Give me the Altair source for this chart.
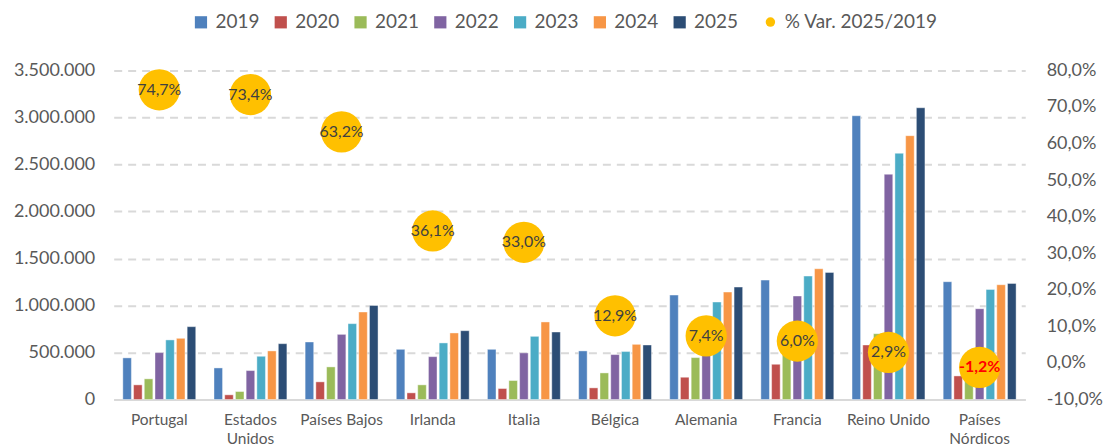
import altair as alt
import pandas as pd

paises = ["Portugal", "Estados Unidos", "Países Bajos", "Irlanda", "Italia",
          "Bélgica", "Alemania", "Francia", "Reino Unido", "Países Nórdicos"]
anios = ["2019", "2020", "2021", "2022", "2023", "2024", "2025"]

v2019 = [443000, 336000, 612000, 534000, 534000, 517000, 1111000, 1270000, 3018000, 1253000]
v2020 = [156000, 50000, 188000, 71000, 117000, 124000, 237000, 375000, 580000, 251000]
v2021 = [220000, 85000, 347000, 156000, 202000, 283000, 446000, 480000, 700000, 230000]
v2022 = [499000, 308000, 693000, 456000, 496000, 478000, 600000, 1101000, 2396000, 966000]
v2023 = [634000, 460000, 807000, 602000, 672000, 510000, 1037000, 1313000, 2619000, 1171000]
v2024 = [651000, 517000, 931000, 708000, 825000, 587000, 1143000, 1391000, 2806000, 1221000]
v2025 = [775000, 594000, 1001000, 732000, 718000, 580000, 1196000, 1352000, 3103000, 1235000]

pct = [74.7, 73.4, 63.2, 36.1, 33.0, 12.9, 7.4, 6.0, 2.9, -1.2]
pct_labels = ["74,7%", "73,4%", "63,2%", "36,1%", "33,0%", "12,9%", "7,4%", "6,0%", "2,9%", "-1,2%"]

var_name = "% Var. 2025/2019"
colores = ["#4F81BD", "#C0504D", "#9BBB59", "#8064A2", "#4BACC6", "#F79646", "#2C4D75"]
color_var = "#FFC000"

series = [v2019, v2020, v2021, v2022, v2023, v2024, v2025]
rows = []
for a, vals in zip(anios, series):
    for p, v in zip(paises, vals):
        rows.append({"pais": p, "serie": a, "valor": v})
bars_df = pd.DataFrame(rows)
pct_df = pd.DataFrame({"pais": paises, "pct": pct, "lbl": pct_labels, "serie": var_name})

FONT = "Lato"
GREY = "#595959"

legend_years = alt.Legend(
    title=None, orient="none", direction="horizontal", legendX=78, legendY=-58,
    labelFontSize=19, labelFont=FONT, labelColor=GREY, symbolSize=150, symbolType="square",
    symbolStrokeWidth=0, columnPadding=11, labelOffset=5,
)
legend_var = alt.Legend(
    title=None, orient="none", direction="horizontal", legendX=649, legendY=-58,
    labelFontSize=19, labelFont=FONT, labelColor=GREY, symbolSize=90, symbolType="circle",
    symbolStrokeWidth=0, labelOffset=5,
)

x_enc = alt.X("pais:N", sort=paises, title=None,
              scale=alt.Scale(paddingInner=0.2, paddingOuter=0.1),
              axis=alt.Axis(labelFont=FONT, labelFontSize=15.5, labelColor=GREY, ticks=False,
                            labelAngle=0, labelPadding=13, labelLineHeight=19,
                            domainColor="#D9D9D9", domainWidth=2,
                            labelExpr="datum.label == 'Estados Unidos' || datum.label == 'Países Nórdicos' ? split(datum.label, ' ') : datum.label"))

bars = alt.Chart(bars_df).mark_bar(stroke="white", strokeWidth=0.7, strokeOpacity=0.6).encode(
    x=x_enc,
    xOffset=alt.XOffset("serie:N", sort=anios, scale=alt.Scale(paddingInner=0.2)),
    y=alt.Y("valor:Q", title=None,
            scale=alt.Scale(domain=[0, 3500000], nice=False),
            axis=alt.Axis(values=[0, 500000, 1000000, 1500000, 2000000, 2500000, 3000000, 3500000],
                          labelExpr="replace(format(datum.value, ',d'), regexp(',', 'g'), '.')",
                          labelFont=FONT, labelFontSize=18, labelColor=GREY, ticks=False,
                          domain=False, labelPadding=19, labelOverlap=False, grid=True,
                          gridColor="#D9D9D9", gridWidth=2, gridDash=[8, 6])),
    color=alt.Color("serie:N", scale=alt.Scale(domain=anios, range=colores), legend=legend_years),
)

y_pct = alt.Y("pct:Q", title=None, scale=alt.Scale(domain=[-10, 80], nice=False),
              axis=alt.Axis(orient="right", values=[-10, 0, 10, 20, 30, 40, 50, 60, 70, 80],
                            labelExpr="replace(replace(format(datum.value, '.1f'), '.', ','), '\u2212', '-') + '%'",
                            labelFont=FONT, labelFontSize=18, labelColor=GREY, ticks=False,
                            domain=False, grid=False, labelPadding=21, labelOverlap=False))

circles = alt.Chart(pct_df).mark_circle(size=1710, opacity=1).encode(
    x=alt.X("pais:N", sort=paises),
    y=y_pct,
    fill=alt.Fill("serie:N", scale=alt.Scale(domain=[var_name], range=[color_var]), legend=legend_var),
)

txt_pos = alt.Chart(pct_df).transform_filter("datum.pct >= 0").mark_text(
    font=FONT, fontSize=16, color="#404040").encode(
    x=alt.X("pais:N", sort=paises), y=y_pct, text="lbl:N")

txt_neg = alt.Chart(pct_df).transform_filter("datum.pct < 0").mark_text(
    font=FONT, fontSize=16, color="#FF0000", fontWeight="bold").encode(
    x=alt.X("pais:N", sort=paises), y=y_pct, text="lbl:N")

right = alt.layer(circles, txt_pos, txt_neg)

chart = alt.layer(bars, right).resolve_scale(y="independent").properties(
    width=914, height=330,
    autosize=alt.AutoSizeParams(type="none"),
    padding={"left": 106, "top": 62, "right": 78, "bottom": 47},
).configure_view(stroke=None)

chart.save("out.html", embed_options={"renderer": "svg", "actions": False})
